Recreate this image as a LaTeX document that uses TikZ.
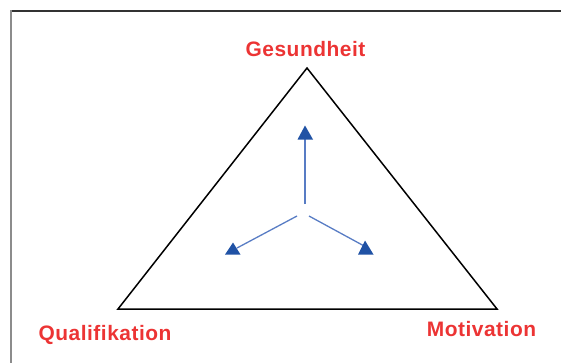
\documentclass[tikz,border=0pt]{standalone}
\usepackage{fontspec}
\setmainfont{Liberation Sans}
\definecolor{lbl}{RGB}{236,52,52}
\definecolor{arrline}{RGB}{88,124,196}
\definecolor{arrhead}{RGB}{32,82,165}
\begin{document}
\begin{tikzpicture}[x=1bp,y=-1bp,
  lab/.style={text=lbl,font=\fontsize{21}{22}\selectfont\bfseries\addfontfeatures{LetterSpace=2.5},anchor=base,inner sep=0pt},
  arr/.style={draw=arrline,line width=1.3bp},
  headtri/.style={fill=arrhead}]
\useasboundingbox (0,0) rectangle (561,363);
% frame
\draw[draw=black!80,line width=1.4bp] (10,11) -- (561,11);
\draw[draw=black!45,line width=2bp] (11,10.3) -- (11,363);
% triangle
\coordinate (T) at (307,68);
\coordinate (L) at (118,309);
\coordinate (R) at (497,309);
\draw[line width=1.5bp,line join=miter] (T) -- (L) -- (R) -- cycle;
% arrows
\coordinate (cu) at (305,204);
\coordinate (cl) at (297,216);
\coordinate (cr) at (309,216);
\coordinate (eu) at (305,139);
\coordinate (el) at (237,248);
\coordinate (er) at (366,247);
\draw[arr] (cu) -- (eu);
\draw[arr] (cl) -- (el);
\draw[arr] (cr) -- (er);
\fill[headtri] (305,125.5) -- (297.5,139.5) -- (313,139.5) -- cycle;
\fill[headtri] (233,242.5) -- (225,254.5) -- (240.5,254.5) -- cycle;
\fill[headtri] (365,240.5) -- (358,254.5) -- (373.5,254.5) -- cycle;
% labels
\node[lab] (g) at (305.5,56.5) {Gesundheit};
\node[lab] (q) at (105,340) {Qualifikation};
\node[lab] (m) at (481.5,336.7) {Motivation};
\end{tikzpicture}
\end{document}
